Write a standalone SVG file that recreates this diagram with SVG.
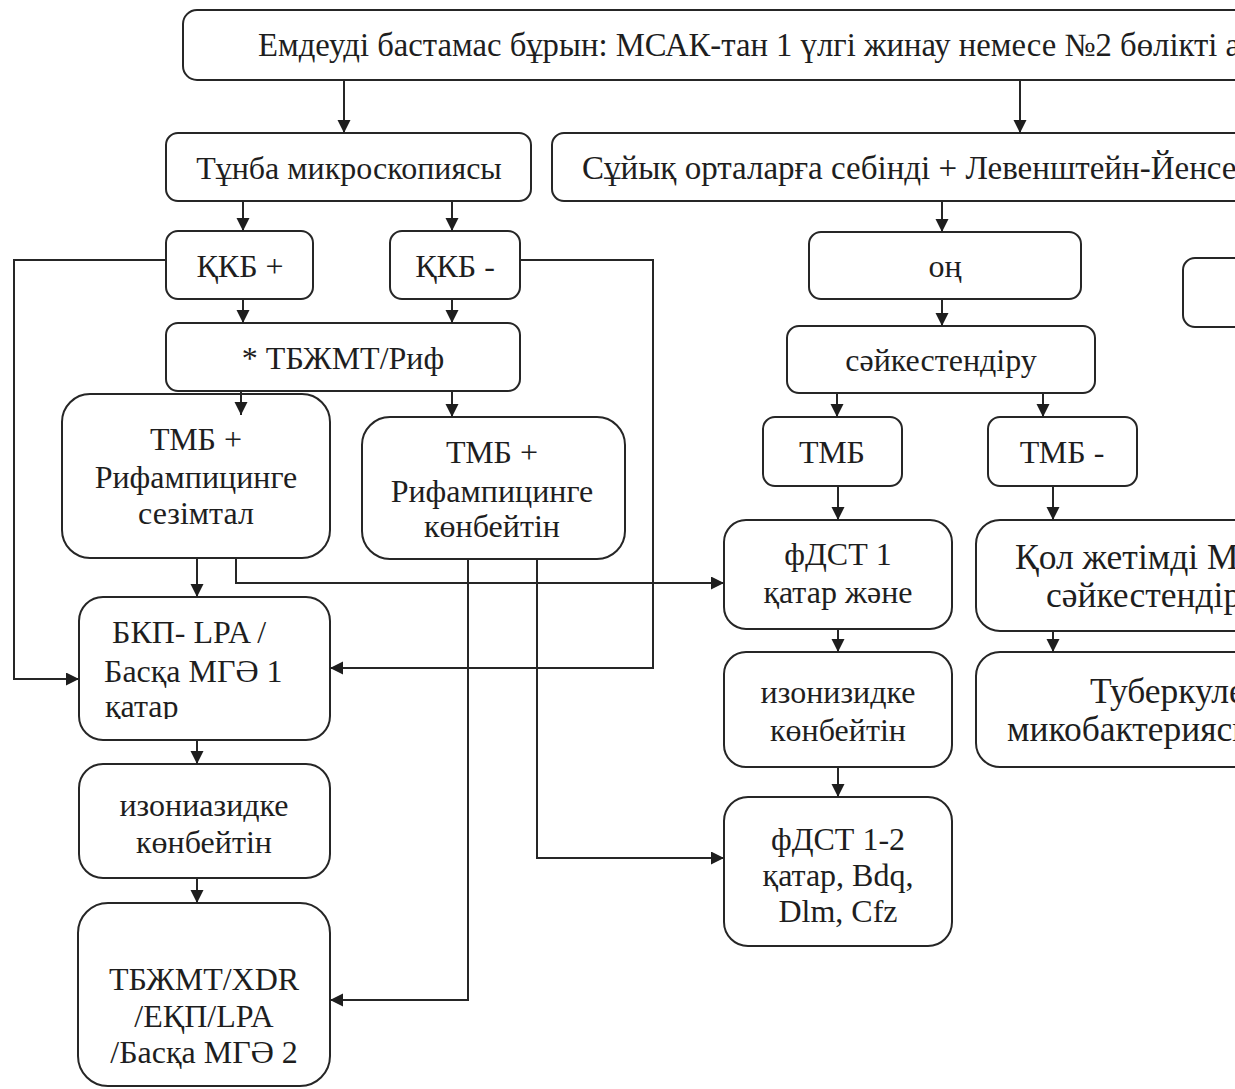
<svg xmlns="http://www.w3.org/2000/svg" width="1235" height="1089" viewBox="0 0 1235 1089">
<style>
.box{fill:#fff;stroke:#262626;stroke-width:2}
.t{font-family:"Liberation Serif","Times New Roman",serif;font-size:32px;fill:#1e1e1e}
.c{text-anchor:middle}
.big{font-size:35.5px}
.ln{fill:none;stroke:#262626;stroke-width:2}
</style>
<defs>
<marker id="ar" markerUnits="userSpaceOnUse" markerWidth="14" markerHeight="14" refX="13" refY="6.5" orient="auto">
<path d="M0,0 L13,6.5 L0,13 z" fill="#1e1e1e"/>
</marker>
<clipPath id="bkpclip"><rect x="79" y="597" width="251" height="122"/></clipPath>
</defs>
<rect width="1235" height="1089" fill="#fff"/>

<g id="top">
<rect class="box" x="183" y="10" width="1100" height="70" rx="14"/>
<text class="t" x="258" y="56" style="font-size:32.7px">Емдеуді бастамас бұрын: МСАК-тан 1 үлгі жинау немесе №2 бөлікті а</text>
</g>
<g id="tunba">
<rect class="box" x="166" y="133" width="365" height="68" rx="12"/>
<text class="t c" x="349" y="179">Тұнба микроскопиясы</text>
</g>
<g id="kkb_plus">
<rect class="box" x="166" y="231" width="147" height="68" rx="12"/>
<text class="t c" x="240" y="277">ҚКБ +</text>
</g>
<g id="kkb_minus">
<rect class="box" x="390" y="231" width="130" height="68" rx="12"/>
<text class="t c" x="455" y="277">ҚКБ -</text>
</g>
<g id="tbzhmt_rif">
<rect class="box" x="166" y="323" width="354" height="68" rx="12"/>
<text class="t c" x="343" y="369">* ТБЖМТ/Риф</text>
</g>
<g id="tmb_sens">
<rect class="box" x="62" y="394" width="268" height="164" rx="28"/>
<text class="t c" x="196" y="450">ТМБ +</text>
<text class="t c" x="196" y="488">Рифампицинге</text>
<text class="t c" x="196" y="524">сезімтал</text>
</g>
<g id="tmb_res">
<rect class="box" x="362" y="417" width="263" height="142" rx="28"/>
<text class="t c" x="492" y="463">ТМБ +</text>
<text class="t c" x="492" y="502">Рифампицинге</text>
<text class="t c" x="492" y="537">көнбейтін</text>
</g>
<g id="bkp">
<rect class="box" x="79" y="597" width="251" height="143" rx="24"/>
<g clip-path="url(#bkpclip)">
<text class="t" x="112" y="643">БКП- LPA /</text>
<text class="t" x="104" y="682">Басқа МГӘ 1</text>
<text class="t" x="105" y="717">қатар</text>
</g>
</g>
<g id="isoniazid_left">
<rect class="box" x="79" y="764" width="251" height="114" rx="24"/>
<text class="t c" x="204" y="816">изониазидке</text>
<text class="t c" x="204" y="853">көнбейтін</text>
</g>
<g id="xdr">
<rect class="box" x="78" y="903" width="252" height="183" rx="30"/>
<text class="t c" x="204" y="990">ТБЖМТ/XDR</text>
<text class="t c" x="204" y="1027">/ЕҚП/LPA</text>
<text class="t c" x="204" y="1063">/Басқа МГӘ 2</text>
</g>
<g id="syiyk">
<rect class="box" x="552" y="133" width="720" height="68" rx="12"/>
<text class="t" x="582" y="179" style="font-size:33px">Сұйық орталарға себінді + Левенштейн-Йенсе</text>
</g>
<g id="on">
<rect class="box" x="809" y="232" width="272" height="67" rx="12"/>
<text class="t c" x="945" y="277">оң</text>
</g>
<g id="saik">
<rect class="box" x="787" y="326" width="308" height="67" rx="12"/>
<text class="t c" x="941" y="371">сәйкестендіру</text>
</g>
<g id="tmb">
<rect class="box" x="763" y="417" width="139" height="69" rx="12"/>
<text class="t c" x="832" y="463">ТМБ</text>
</g>
<g id="tmb_minus">
<rect class="box" x="988" y="417" width="149" height="69" rx="12"/>
<text class="t c" x="1062" y="463">ТМБ -</text>
</g>
<g id="right_box">
<rect class="box" x="1183" y="258" width="100" height="69" rx="12"/>
</g>
<g id="fdst1">
<rect class="box" x="724" y="520" width="228" height="109" rx="22"/>
<text class="t c" x="838" y="565">фДСТ 1</text>
<text class="t c" x="838" y="603">қатар және</text>
</g>
<g id="isoniz_right">
<rect class="box" x="724" y="652" width="228" height="115" rx="22"/>
<text class="t c" x="838" y="703">изонизидке</text>
<text class="t c" x="838" y="741">көнбейтін</text>
</g>
<g id="fdst12">
<rect class="box" x="724" y="797" width="228" height="149" rx="24"/>
<text class="t c" x="838" y="850">фДСТ 1-2</text>
<text class="t c" x="838" y="886">қатар, Bdq,</text>
<text class="t c" x="838" y="922">Dlm, Cfz</text>
</g>
<g id="qol">
<rect class="box" x="976" y="520" width="320" height="111" rx="24"/>
<text class="t big" x="1015" y="569">Қол жетімді М</text>
<text class="t big" x="1046" y="607">сәйкестендір</text>
</g>
<g id="tuberk">
<rect class="box" x="976" y="652" width="320" height="115" rx="24"/>
<text class="t big" x="1090" y="703">Туберкуле</text>
<text class="t big" x="1007" y="741">микобактериясы</text>
</g>

<g id="connectors">
<path class="ln" d="M344,80 V133" marker-end="url(#ar)"/>
<path class="ln" d="M1020,80 V133" marker-end="url(#ar)"/>
<path class="ln" d="M243,201 V231" marker-end="url(#ar)"/>
<path class="ln" d="M452,201 V231" marker-end="url(#ar)"/>
<path class="ln" d="M243,299 V323" marker-end="url(#ar)"/>
<path class="ln" d="M452,299 V323" marker-end="url(#ar)"/>
<path class="ln" d="M166,260 H14 V679 H79" marker-end="url(#ar)"/>
<path class="ln" d="M520,260 H653 V668 H330" marker-end="url(#ar)"/>
<path class="ln" d="M241,391 V415" marker-end="url(#ar)"/>
<path class="ln" d="M452,391 V417" marker-end="url(#ar)"/>
<path class="ln" d="M197,558 V597" marker-end="url(#ar)"/>
<path class="ln" d="M236,558 V583 H724" marker-end="url(#ar)"/>
<path class="ln" d="M468,559 V1000 H330" marker-end="url(#ar)"/>
<path class="ln" d="M537,559 V858 H724" marker-end="url(#ar)"/>
<path class="ln" d="M197,740 V764" marker-end="url(#ar)"/>
<path class="ln" d="M197,878 V903" marker-end="url(#ar)"/>
<path class="ln" d="M942,201 V232" marker-end="url(#ar)"/>
<path class="ln" d="M942,299 V326" marker-end="url(#ar)"/>
<path class="ln" d="M837,393 V417" marker-end="url(#ar)"/>
<path class="ln" d="M1043,393 V417" marker-end="url(#ar)"/>
<path class="ln" d="M838,486 V520" marker-end="url(#ar)"/>
<path class="ln" d="M1053,486 V520" marker-end="url(#ar)"/>
<path class="ln" d="M838,629 V652" marker-end="url(#ar)"/>
<path class="ln" d="M838,767 V797" marker-end="url(#ar)"/>
<path class="ln" d="M1053,631 V652" marker-end="url(#ar)"/>
</g>
</svg>
